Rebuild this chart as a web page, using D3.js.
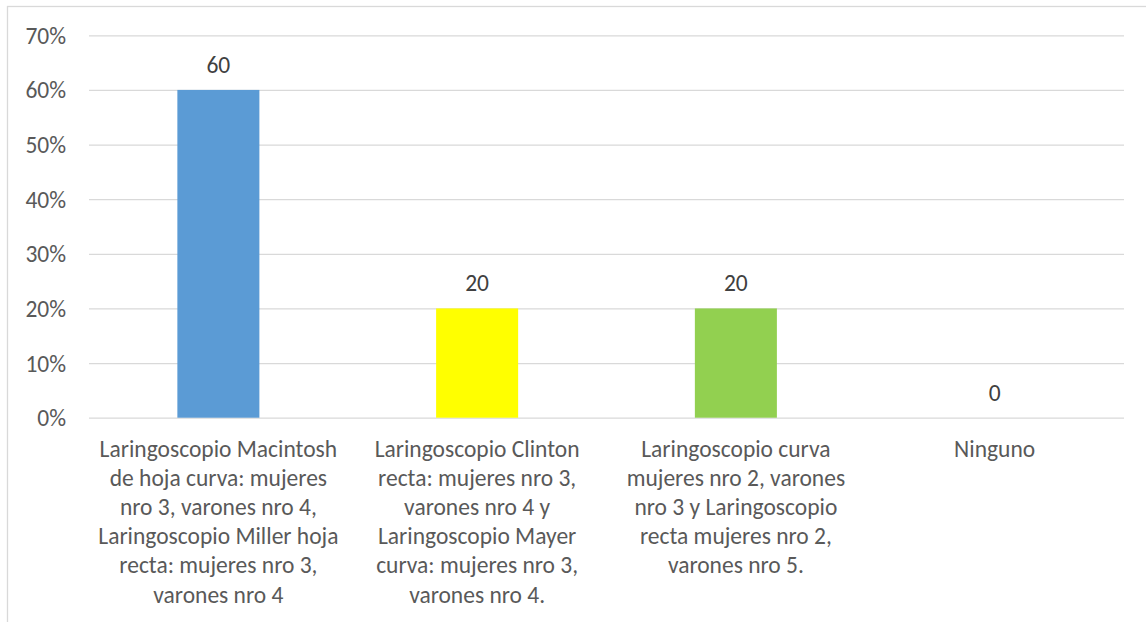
<!DOCTYPE html>
<html>
<head>
<meta charset="utf-8">
<script src="https://cdn.jsdelivr.net/npm/d3@7"></script>
<style>
  html, body { margin: 0; padding: 0; background: #fff; }
  svg { display: block; }
  text { font-family: Carlito, Calibri, Lato, "Open Sans", sans-serif; }
</style>
</head>
<body>
<svg id="chart" width="1146" height="622"></svg>
<script>
// ---- data ----
const categories = [
  ["Laringoscopio Macintosh", "de hoja curva: mujeres", "nro 3, varones nro 4,", "Laringoscopio Miller hoja", "recta: mujeres nro 3,", "varones nro 4"],
  ["Laringoscopio Clinton", "recta: mujeres nro 3,", "varones nro 4 y", "Laringoscopio Mayer", "curva: mujeres nro 3,", "varones nro 4."],
  ["Laringoscopio curva", "mujeres nro 2, varones", "nro 3 y Laringoscopio", "recta mujeres nro 2,", "varones nro 5."],
  ["Ninguno"]
];
const values = [60, 20, 20, 0];
const dataLabels = ["60", "20", "20", "0"];
const barColors = ["#5B9BD5", "#FFFF00", "#92D050", "#A5A5A5"];
const yTicks = [0, 10, 20, 30, 40, 50, 60, 70];
const yTickLabels = ["0%", "10%", "20%", "30%", "40%", "50%", "60%", "70%"];

// ---- layout ----
const svg = d3.select("#chart");
const plot = { left: 89, right: 1124, top: 35.3, bottom: 417.7 };
const fontSize = "23.5px";

// chart border (extends past right/bottom edges as in reference)
svg.append("rect")
  .attr("x", 7.5).attr("y", 6.5)
  .attr("width", 1200).attr("height", 700)
  .attr("fill", "none").attr("stroke", "#D9D9D9").attr("stroke-width", 1.3);

const x = d3.scaleBand()
  .domain(d3.range(categories.length))
  .range([plot.left, plot.right])
  .paddingInner(0.683).paddingOuter(0.683 / 2);

const xGroup = d3.scaleBand()
  .domain(d3.range(categories.length))
  .range([plot.left, plot.right]);

const y = d3.scaleLinear().domain([0, 70]).range([plot.bottom, plot.top]);

// gridlines
const yAxis = d3.axisLeft(y)
  .tickValues(yTicks)
  .tickSize(-(plot.right - plot.left))
  .tickPadding(23)
  .tickFormat((d, i) => yTickLabels[i]);

const gy = svg.append("g")
  .attr("transform", `translate(${plot.left},0)`)
  .call(yAxis);
gy.select(".domain").remove();
gy.selectAll(".tick line").attr("stroke", "#D9D9D9").attr("stroke-width", 1.3);
gy.selectAll(".tick text")
  .attr("fill", "#595959")
  .attr("font-size", fontSize)
  .attr("dy", "0.34em");

// bars
svg.append("g").selectAll("rect")
  .data(values)
  .join("rect")
  .attr("x", (d, i) => x(i))
  .attr("width", x.bandwidth())
  .attr("y", d => y(d))
  .attr("height", d => y(0) - y(d))
  .attr("fill", (d, i) => barColors[i]);

// data labels
svg.append("g").selectAll("text")
  .data(values)
  .join("text")
  .attr("x", (d, i) => xGroup(i) + xGroup.bandwidth() / 2)
  .attr("y", d => y(d) - 17)
  .attr("text-anchor", "middle")
  .attr("fill", "#404040")
  .attr("font-size", fontSize)
  .text((d, i) => dataLabels[i]);

// category labels
const catG = svg.append("g");
categories.forEach((lines, i) => {
  const t = catG.append("text")
    .attr("text-anchor", "middle")
    .attr("fill", "#595959")
    .attr("font-size", fontSize);
  lines.forEach((ln, j) => {
    t.append("tspan")
      .attr("x", xGroup(i) + xGroup.bandwidth() / 2)
      .attr("y", 457 + j * 29.1)
      .text(ln);
  });
});
</script>
</body>
</html>
